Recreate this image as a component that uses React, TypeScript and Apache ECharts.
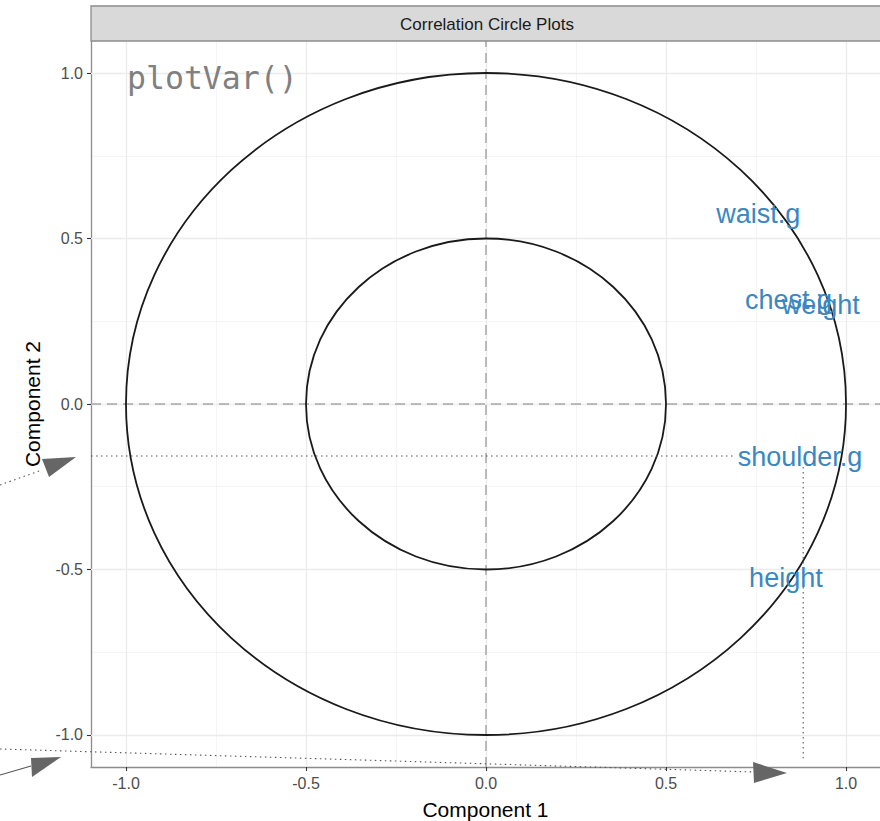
import React, { useEffect, useRef } from "react";
import * as echarts from "echarts";

// ---- data ----
const variables = ["waist.g", "chest.g", "weight", "shoulder.g", "height"];
const component1 = [0.756, 0.84, 0.93, 0.872, 0.833];
const component2 = [0.574, 0.314, 0.299, -0.16, -0.526];
const circleRadii = [1, 0.5];
const majorTicks = [-1, -0.5, 0, 0.5, 1];
const minorTicks = [-0.75, -0.25, 0.25, 0.75];
const xRange = [-1.0972, 1.0944];
const yRange = [-1.0967, 1.0967];
// dotted guide lines for shoulder.g
const guideY = -0.157;
const guideXEnd = 0.692;
const guideX = 0.881;
const guideYRange = [-0.19, -1.07];

const tickFmt = (v: number) => (v < 0 ? "-" : "") + Math.abs(v).toFixed(1);

export default function App() {
  const ref = useRef<HTMLDivElement>(null);
  useEffect(() => {
    document.body.style.margin = "0";
    const chart = echarts.init(ref.current!, null, { renderer: "svg" });
    const font = "Liberation Sans";
    const noSym = ["none", "none"];
    const option: any = {
      animation: false,
      textStyle: { fontFamily: font },
      grid: { left: 91, top: 41, right: 0, bottom: 54, containLabel: false, outerBoundsMode: "none" },
      xAxis: {
        type: "value",
        min: xRange[0],
        max: xRange[1],
        name: "Component 1",
        nameLocation: "middle",
        nameGap: 32,
        nameTextStyle: { fontSize: 21, color: "#000", fontFamily: font },
        axisLine: { show: true, onZero: false, lineStyle: { color: "#8c8c8c", width: 1.3 } },
        axisTick: { show: true, customValues: majorTicks, length: 4, lineStyle: { color: "#333", width: 1.1 } },
        axisLabel: { customValues: majorTicks, formatter: tickFmt, fontSize: 16, color: "#4d4d4d", margin: 8 },
        splitLine: { show: false },
      },
      yAxis: {
        type: "value",
        min: yRange[0],
        max: yRange[1],
        name: "Component 2",
        nameLocation: "middle",
        nameGap: 48,
        nameRotate: 90,
        nameTextStyle: { fontSize: 21, color: "#000", fontFamily: font },
        axisLine: { show: true, onZero: false, lineStyle: { color: "#8c8c8c", width: 1.3 } },
        axisTick: { show: true, customValues: majorTicks, length: 4, lineStyle: { color: "#333", width: 1.1 } },
        axisLabel: { customValues: majorTicks, formatter: tickFmt, fontSize: 16, color: "#4d4d4d", margin: 8 },
        splitLine: { show: false },
      },
      series: [
        {
          name: "minorGrid",
          type: "line",
          data: [],
          silent: true,
          z: 0,
          markLine: {
            silent: true,
            z: 0,
            symbol: noSym,
            label: { show: false },
            lineStyle: { color: "#f2f2f2", width: 0.8, type: "solid" },
            data: [...minorTicks.map((v) => ({ xAxis: v })), ...minorTicks.map((v) => ({ yAxis: v }))],
          },
        },
        {
          name: "majorGrid",
          type: "line",
          data: [],
          silent: true,
          z: 0,
          markLine: {
            silent: true,
            z: 0.5,
            symbol: noSym,
            label: { show: false },
            lineStyle: { color: "#ebebeb", width: 1.3, type: "solid" },
            data: [...majorTicks.map((v) => ({ xAxis: v })), ...majorTicks.map((v) => ({ yAxis: v }))],
          },
        },
        {
          name: "zeroLines",
          type: "line",
          data: [],
          silent: true,
          z: 1,
          markLine: {
            silent: true,
            z: 1,
            symbol: noSym,
            label: { show: false },
            lineStyle: { color: "#a6a6a6", width: 1.5, type: [10, 6] },
            data: [{ xAxis: 0 }, { yAxis: 0 }],
          },
        },
        {
          name: "circles",
          type: "custom",
          silent: true,
          z: 3,
          data: circleRadii.map((r) => [0, 0, r]),
          encode: { x: 0, y: 1 },
          renderItem: (params: any, api: any) => {
            const c = api.coord([api.value(0), api.value(1)]);
            const r = api.value(2);
            const s = api.size([r, r]);
            return {
              type: "ellipse",
              shape: { cx: c[0], cy: c[1], rx: s[0], ry: s[1] },
              style: { fill: "none", stroke: "#1a1a1a", lineWidth: 1.8 },
            };
          },
        },
        {
          name: "guideH",
          type: "line",
          silent: true,
          symbol: "none",
          z: 4,
          data: [
            [xRange[0], guideY],
            [guideXEnd, guideY],
          ],
          lineStyle: { color: "#555", width: 1.1, type: [1.5, 3.5] },
        },
        {
          name: "guideV",
          type: "line",
          silent: true,
          symbol: "none",
          z: 4,
          data: [
            [guideX, guideYRange[0]],
            [guideX, guideYRange[1]],
          ],
          lineStyle: { color: "#555", width: 1.1, type: [1.5, 3.5] },
        },
        {
          name: "variables",
          type: "scatter",
          silent: true,
          symbolSize: 1,
          itemStyle: { color: "rgba(0,0,0,0)", opacity: 1 },
          data: variables.map((n, i) => ({ name: n, value: [component1[i], component2[i]] })),
          label: {
            show: true,
            position: "inside",
            formatter: "{b}",
            fontSize: 27,
            color: "#3a87c2",
            opacity: 1,
            fontFamily: font,
          },
          z: 5,
        },
      ],
      graphic: [
        {
          type: "rect",
          shape: { x: 91, y: 6, width: 820, height: 35 },
          style: { fill: "#d9d9d9", stroke: "#8c8c8c", lineWidth: 1.3 },
          z: 10,
        },
        {
          type: "text",
          x: 487,
          y: 24,
          style: {
            text: "Correlation Circle Plots",
            fontSize: 17,
            fontFamily: font,
            fill: "#1a1a1a",
            textAlign: "center",
            textVerticalAlign: "middle",
          },
          z: 11,
        },
        {
          type: "text",
          x: 127,
          y: 78,
          style: {
            text: "plotVar()",
            fontSize: 31.5,
            fontFamily: "DejaVu Sans Mono",
            fill: "#808080",
            textAlign: "left",
            textVerticalAlign: "middle",
          },
          z: 11,
        },
        // annotation arrows
        {
          type: "polyline",
          shape: { points: [[0, 485], [42, 470]] },
          style: { stroke: "#555", lineWidth: 1.1, lineDash: [1.5, 3.5], fill: "none" },
          z: 12,
        },
        {
          type: "polygon",
          shape: { points: [[76, 457], [42, 459], [49, 477]] },
          style: { fill: "#666" },
          z: 12,
        },
        {
          type: "polyline",
          shape: { points: [[0, 775], [31, 766]] },
          style: { stroke: "#555", lineWidth: 1.1, fill: "none" },
          z: 12,
        },
        {
          type: "polygon",
          shape: { points: [[61, 757], [31, 758], [32, 777]] },
          style: { fill: "#666" },
          z: 12,
        },
        {
          type: "polyline",
          shape: { points: [[0, 749], [755, 772]] },
          style: { stroke: "#555", lineWidth: 1.1, lineDash: [1.5, 3.5], fill: "none" },
          z: 12,
        },
        {
          type: "polygon",
          shape: { points: [[787, 773], [753, 762], [754, 783]] },
          style: { fill: "#666" },
          z: 12,
        },
      ],
    };
    chart.setOption(option);
    return () => chart.dispose();
  }, []);
  return <div ref={ref} style={{ width: 880, height: 821 }} />;
}
